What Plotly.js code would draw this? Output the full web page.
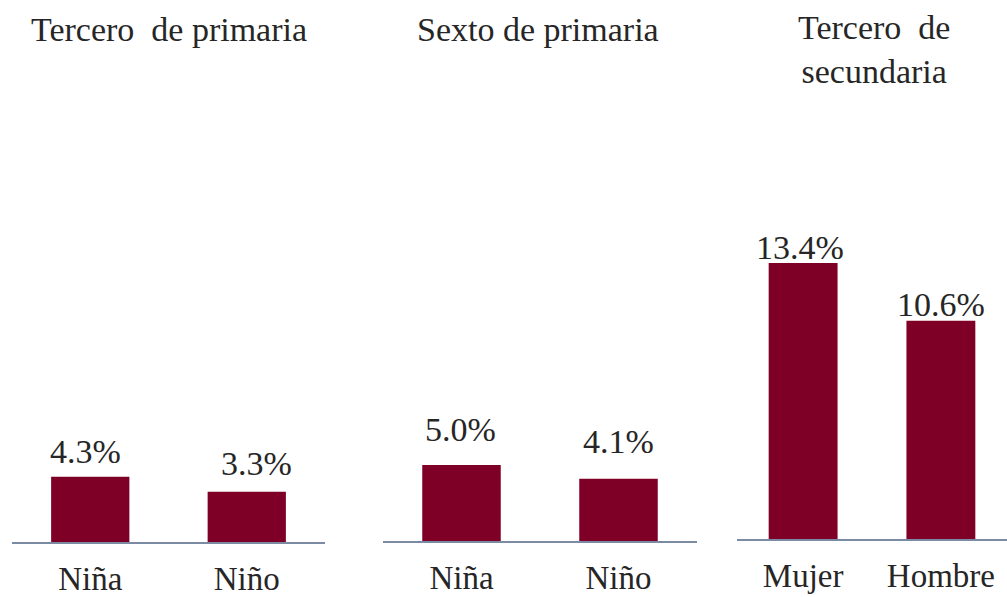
<!DOCTYPE html>
<html>
<head>
<meta charset="utf-8">
<script src="https://cdn.plot.ly/plotly-3.0.1.min.js"></script>
<style>html,body{margin:0;padding:0;background:#fff;}#chart{width:1007px;height:597px;}</style>
</head>
<body>
<div id="chart"></div>
<script>
// ---- data ----
const panelTitles = ["Tercero\u00a0 de primaria", "Sexto de primaria", "Tercero\u00a0 de<br>secundaria"];
const catsPrim3 = ["Niña", "Niño"];
const valsPrim3 = [4.3, 3.3];
const catsPrim6 = ["Niña", "Niño"];
const valsPrim6 = [5.0, 4.1];
const catsSec3 = ["Mujer", "Hombre"];
const valsSec3 = [13.4, 10.6];

// ---- style ----
const W = 1007, H = 597;
const FONT = "Liberation Serif, Times New Roman, serif";
const TXT = "#262626";
const BAR = "#7f0027";
const LINE = "#7b8ba3";
const FS = 34;
const TICKFS = 33;

const panels = [
  {cats: catsPrim3, vals: valsPrim3, xpx: [12, 325], ybot: 542, yrange: 29.08, xr: [-0.5, 1.5],
   lblShift: [[-5, 25], [10, 28]], title: {x: 169, y: 30}},
  {cats: catsPrim6, vals: valsPrim6, xpx: [383, 697], ybot: 541, yrange: 29.0, xr: [-0.5, 1.5],
   lblShift: [[-1, 35], [0, 37]], title: {x: 538, y: 30}},
  {cats: catsSec3, vals: valsSec3, xpx: [737, 1007], ybot: 539, yrange: 21.31, xr: [-0.48, 1.48],
   lblShift: [[-3, 15], [0, 16]], title: {x: 874, y: 50}}
];
const YTOP = 100;

const data = [];
const layout = {
  width: W, height: H,
  margin: {l: 0, r: 0, t: 0, b: 0},
  paper_bgcolor: "#fff", plot_bgcolor: "rgba(0,0,0,0)",
  showlegend: false,
  font: {family: FONT, size: FS, color: TXT},
  annotations: []
};

panels.forEach((p, i) => {
  const n = i === 0 ? "" : String(i + 1);
  data.push({
    type: "bar",
    x: p.cats.map((c, k) => k),
    y: p.vals,
    width: 0.5,
    marker: {color: BAR, line: {width: 0}},
    xaxis: "x" + n, yaxis: "y" + n,
    hoverinfo: "skip"
  });
  layout["xaxis" + n] = {
    domain: [p.xpx[0] / W, p.xpx[1] / W],
    range: p.xr,
    anchor: "y" + n,
    tickmode: "array",
    tickvals: p.cats.map((c, k) => k),
    ticktext: p.cats,
    ticks: "",
    ticklabelstandoff: 6,
    showgrid: false, zeroline: false,
    showline: true, linecolor: LINE, linewidth: 2,
    tickfont: {family: FONT, size: TICKFS, color: TXT},
    fixedrange: true
  };
  layout["yaxis" + n] = {
    domain: [(H - p.ybot) / H, (H - YTOP) / H],
    range: [0, p.yrange],
    anchor: "x" + n,
    visible: false, showgrid: false, zeroline: false,
    fixedrange: true
  };
  p.vals.forEach((v, k) => {
    layout.annotations.push({
      xref: "x" + n, yref: "y" + n,
      x: k, y: v,
      text: v.toFixed(1) + "%",
      showarrow: false,
      xanchor: "center", yanchor: "middle",
      xshift: p.lblShift[k][0], yshift: p.lblShift[k][1],
      font: {family: FONT, size: FS, color: TXT}
    });
  });
  layout.annotations.push({
    xref: "paper", yref: "paper",
    x: p.title.x / W, y: (H - p.title.y) / H,
    text: panelTitles[i],
    showarrow: false,
    xanchor: "center", yanchor: "middle",
    align: "center",
    font: {family: FONT, size: FS, color: TXT}
  });
});

Plotly.newPlot("chart", data, layout, {displayModeBar: false, staticPlot: true});
</script>
</body>
</html>
